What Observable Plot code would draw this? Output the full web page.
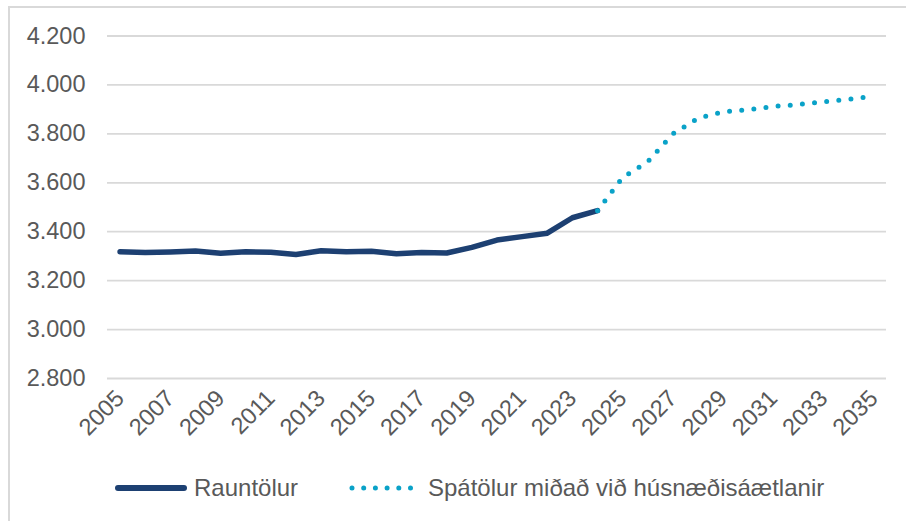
<!DOCTYPE html>
<html>
<head>
<meta charset="utf-8">
<script src="https://cdn.jsdelivr.net/npm/d3@7"></script>
<script src="https://cdn.jsdelivr.net/npm/@observablehq/plot@0.6"></script>
<style>
  html, body { margin: 0; padding: 0; background: #fff; }
  body { width: 906px; height: 521px; overflow: hidden; position: relative; font-family: "Liberation Sans", Arial, sans-serif; }
  #frame { position: absolute; left: 8px; top: 6px; width: 920px; height: 540px; border-left: 2px solid #d9d9d9; border-top: 2px solid #d9d9d9; box-sizing: border-box; }
  #chart { position: absolute; left: 0; top: 0; }
  #legend { position: absolute; left: 0; top: 470px; width: 906px; height: 36px; color: #595959; font-size: 24px; }
  .item { position: absolute; top: 0; height: 36px; display: flex; align-items: center; }
  .item svg { margin-right: 7px; }
</style>
</head>
<body>
<div id="frame"></div>
<div id="chart"></div>
<div id="legend"></div>
<script>
// ---- data ----
const actualYears = [2005, 2006, 2007, 2008, 2009, 2010, 2011, 2012, 2013, 2014, 2015, 2016, 2017, 2018, 2019, 2020, 2021, 2022, 2023, 2024];
const actualValues = [3318, 3315, 3317, 3321, 3312, 3318, 3316, 3307, 3322, 3318, 3320, 3310, 3315, 3313, 3336, 3366, 3380, 3394, 3457, 3486];
const forecastYears = [2024, 2025, 2026, 2027, 2028, 2029, 2030, 2031, 2032, 2033, 2034, 2035];
const forecastValues = [3486, 3622, 3686, 3800, 3864, 3890, 3899, 3912, 3920, 3931, 3941, 3954];
const xTicks = [2005, 2007, 2009, 2011, 2013, 2015, 2017, 2019, 2021, 2023, 2025, 2027, 2029, 2031, 2033, 2035];
const yTicks = [2800, 3000, 3200, 3400, 3600, 3800, 4000, 4200];
const seriesNames = ["Rauntölur", "Spátölur miðað við húsnæðisáætlanir"];

const navy = "#1d4072";
const teal = "#0aa2c8";
const textColor = "#595959";

const actual = actualYears.map((y, i) => ({year: y, value: actualValues[i]}));
const forecast = forecastYears.map((y, i) => ({year: y, value: forecastValues[i]}));

const loc = d3.formatLocale({decimal: ",", thousands: ".", grouping: [3], currency: ["", ""]});
const yFmt = loc.format(",d");

const plot = Plot.plot({
  width: 906,
  height: 460,
  marginLeft: 107,
  marginRight: 20,
  marginTop: 35.5,
  marginBottom: 82,
  style: {fontFamily: "'Liberation Sans', Arial, sans-serif", color: textColor, background: "transparent", overflow: "visible"},
  x: {domain: [2004.5, 2035.5]},
  y: {domain: [2800, 4200]},
  marks: [
    Plot.gridY(yTicks, {stroke: "#d9d9d9", strokeOpacity: 1, strokeWidth: 1.8}),
    Plot.axisY(yTicks, {tickSize: 0, tickPadding: 22, tickFormat: yFmt, fontSize: 23.5, fill: textColor, label: null}),
    Plot.axisX(xTicks, {tickSize: 0, tickPadding: 16, tickRotate: -45, tickFormat: d => String(d), fontSize: 23.5, fill: textColor, label: null}),
    Plot.line(actual, {x: "year", y: "value", stroke: navy, strokeWidth: 5.5, strokeLinecap: "round", strokeLinejoin: "round"}),
    Plot.line(forecast, {x: "year", y: "value", stroke: teal, strokeWidth: 5, strokeLinecap: "round", strokeDasharray: "0 12.2"})
  ]
});
document.getElementById("chart").appendChild(plot);

// legend
const legend = document.getElementById("legend");
const items = [
  {name: seriesNames[0], left: 115, swatch: `<svg width="72" height="10"><line x1="3" y1="5" x2="69" y2="5" stroke="${navy}" stroke-width="6" stroke-linecap="round"/></svg>`},
  {name: seriesNames[1], left: 349, swatch: `<svg width="72" height="10"><line x1="3" y1="5" x2="69" y2="5" stroke="${teal}" stroke-width="5" stroke-linecap="round" stroke-dasharray="0 11.7"/></svg>`}
];
for (const it of items) {
  const d = document.createElement("div");
  d.className = "item";
  d.style.left = it.left + "px";
  d.innerHTML = it.swatch + `<span>${it.name}</span>`;
  legend.appendChild(d);
}
</script>
</body>
</html>
